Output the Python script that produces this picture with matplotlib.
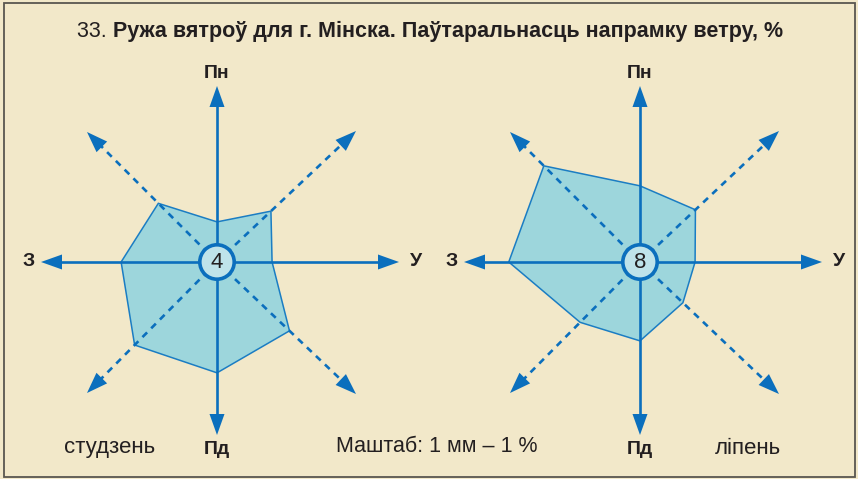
import numpy as np
import matplotlib.pyplot as plt
from matplotlib.patches import Polygon, Circle, Rectangle

# === ДАНЫЯ ===
# напрамкі ў парадку: Пн, ПнУ, У, ПдУ, Пд, ПдЗ, З, ПнЗ
napramki = ['Пн', 'ПнУ', 'У', 'ПдУ', 'Пд', 'ПдЗ', 'З', 'ПнЗ']
studzen = [5.9, 10.9, 8.1, 14.7, 16.3, 17.2, 14.1, 12.2]
lipen = [11.2, 11.2, 8.1, 8.7, 11.6, 12.5, 19.3, 20.0]
shtyli = [4, 8]
mesiacy = ['студзень', 'ліпень']
podpisy_osej = ['Пн', 'У', 'Пд', 'З']

# === ВЫГЛЯД ===
FON = '#f2e8c9'
SINI = '#0b6fbd'
ZALIUKA = '#9dd6dc'
KRAJ = '#1b7dc3'
TEKST = '#231f20'
PX_NA_PRAC = 6.8  # пікселяў на 1 %

# канцы стрэлак адносна цэнтра (px, y уніз)
kantsy = {
    'Пн': (0, -176), 'ПнУ': (139, -131), 'У': (182, 0), 'ПдУ': (139, 132),
    'Пд': (0, 173), 'ПдЗ': (-130, 131), 'З': (-176, 0), 'ПнЗ': (-130, -130),
}
podpisy_pos = {'Пн': (0, -189), 'Пд': (0, 187), 'З': (-188, 0), 'У': (199, 0)}

SANS = ['Liberation Sans', 'DejaVu Sans']

fig = plt.figure(figsize=(8.58, 4.79), dpi=100, facecolor=FON)
ax = fig.add_axes([0, 0, 1, 1])
ax.set_xlim(0, 858)
ax.set_ylim(479, 0)
ax.axis('off')
ax.set_facecolor(FON)

ax.add_patch(Rectangle((4, 3), 851, 474, facecolor=FON, edgecolor='#5a5650',
                       linewidth=1.3, zorder=0))


def strelka(cx, cy, dx, dy, pasatkova):
    """Лінія ад цэнтра з трохвугольнай галоўкай"""
    dl = np.hypot(dx, dy)
    ux, uy = dx / dl, dy / dl
    hl, hw = 21, 7.5
    bx, by = cx + dx - ux * hl, cy + dy - uy * hl
    ls = (0, (2.5, 2.2)) if pasatkova else '-'
    ax.plot([cx, bx + ux * 2], [cy, by + uy * 2], color=SINI, lw=1.9,
            linestyle=ls, zorder=3, solid_capstyle='butt', dash_capstyle='butt')
    hol = [(cx + dx, cy + dy), (bx - uy * hw, by + ux * hw), (bx + uy * hw, by - ux * hw)]
    ax.add_patch(Polygon(hol, closed=True, facecolor=SINI, edgecolor='none', zorder=4))


def ruzha(cx, cy, dadzenyja, shtyl, mesiac, mx):
    pts = []
    for n, v in zip(napramki, dadzenyja):
        dx, dy = kantsy[n]
        dl = np.hypot(dx, dy)
        pts.append((cx + dx / dl * v * PX_NA_PRAC, cy + dy / dl * v * PX_NA_PRAC))
    ax.add_patch(Polygon(pts, closed=True, facecolor=ZALIUKA, edgecolor=KRAJ,
                         linewidth=1.1, zorder=2))
    for n in napramki:
        dx, dy = kantsy[n]
        strelka(cx, cy, dx, dy, len(n) == 3)
    ax.add_patch(Circle((cx, cy), 17.2, facecolor='#bfe3ea', edgecolor=SINI,
                        linewidth=2.6, zorder=5))
    ax.text(cx, cy + 1, str(shtyl), ha='center', va='center', fontsize=16,
            color=TEKST, zorder=6, family=SANS)
    for p in podpisy_osej:
        dx, dy = podpisy_pos[p]
        ax.text(cx + dx, cy + dy, p, ha='center', va='center', fontsize=14,
                fontweight='bold', color=TEKST, family=SANS)
    ax.text(mx, 448, mesiac, ha='center', va='center', fontsize=16, color=TEKST,
            family=SANS)


ruzha(217, 262, studzen, shtyli[0], mesiacy[0], 110)
ruzha(640, 262, lipen, shtyli[1], mesiacy[1], 748)

ax.text(437, 447, 'Маштаб: 1 мм – 1 %', ha='center', va='center', fontsize=15.5,
        color=TEKST, family=SANS)

t1 = ax.text(77, 31, '33. ', ha='left', va='center', fontsize=15.5, color=TEKST, family=SANS)
fig.canvas.draw()
bb = t1.get_window_extent().transformed(ax.transData.inverted())
ax.text(bb.x1, 31, 'Ружа вятроў для г. Мінска. Паўтаральнасць напрамку ветру, %',
        ha='left', va='center', fontsize=15.5, fontweight='bold', color=TEKST, family=SANS)

plt.savefig('out.png', dpi=100, facecolor=FON)
